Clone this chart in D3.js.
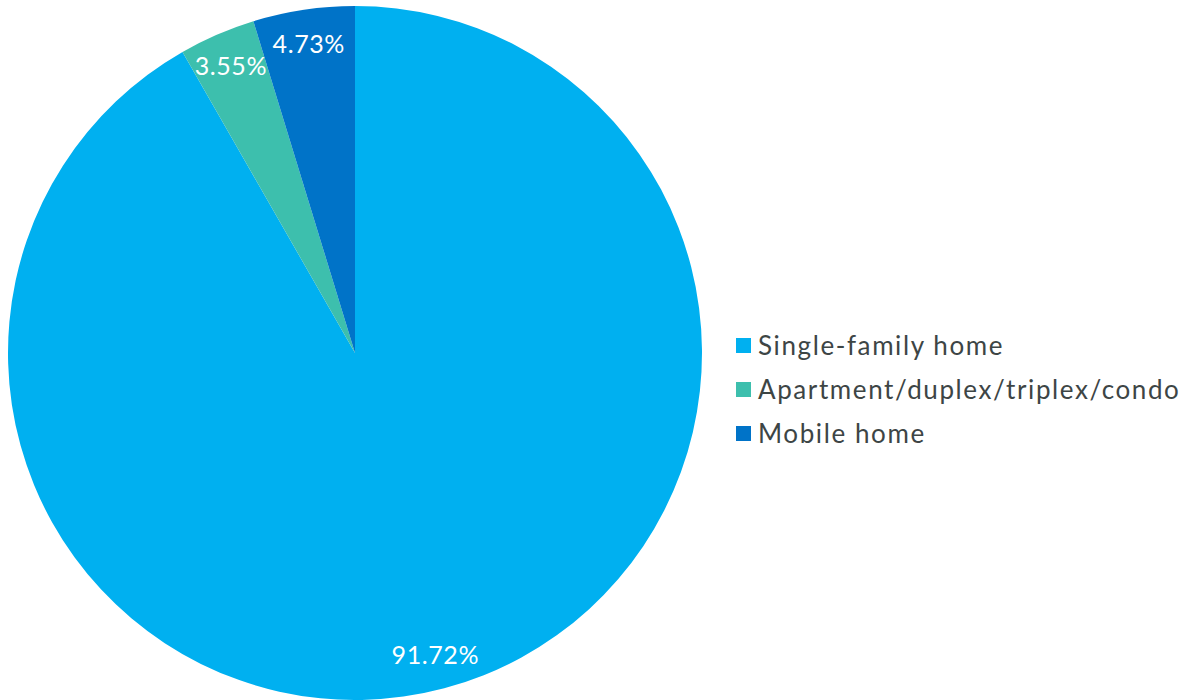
<!DOCTYPE html>
<html>
<head>
<meta charset="utf-8">
<script src="https://cdn.jsdelivr.net/npm/d3@7"></script>
<style>
  body { margin: 0; background: #fff; }
  svg { display: block; font-family: Lato, "Open Sans", sans-serif; }
</style>
</head>
<body>
<div id="chart"></div>
<script>
var width = 1194,
    height = 700;

var categories = ["Single-family home", "Apartment/duplex/triplex/condo", "Mobile home"];
var values = [91.72, 3.55, 4.73];
var colors = ["#00b0f0", "#3dbfad", "#0073c8"];

var cx = 355, cy = 353, radius = 347;

var svg = d3.select("#chart")
    .append("svg")
    .attr("width", width)
    .attr("height", height);

var pie = d3.pie().sort(null).value(function(d) { return d; });
var arc = d3.arc().innerRadius(0).outerRadius(radius);
var labelArc = d3.arc().innerRadius(radius * 0.9).outerRadius(radius * 0.9);

var g = svg.append("g")
    .attr("transform", "translate(" + cx + "," + cy + ")");

var slices = pie(values);

g.selectAll(".slice")
    .data(slices)
    .enter().append("path")
    .attr("class", "slice")
    .attr("d", arc)
    .attr("fill", function(d, i) { return colors[i]; });

g.selectAll(".lbl")
    .data(slices)
    .enter().append("text")
    .attr("class", "lbl")
    .attr("transform", function(d) { return "translate(" + labelArc.centroid(d) + ")"; })
    .attr("text-anchor", "middle")
    .attr("dy", "0.35em")
    .attr("fill", "#fff")
    .style("font-size", "25px")
    .style("letter-spacing", "0.6px")
    .text(function(d) { return d.value.toFixed(2) + "%"; });

var legend = svg.append("g")
    .attr("transform", "translate(736,338)");

var rows = legend.selectAll(".row")
    .data(categories)
    .enter().append("g")
    .attr("class", "row")
    .attr("transform", function(d, i) { return "translate(0," + (i * 44) + ")"; });

rows.append("rect")
    .attr("width", 15)
    .attr("height", 15)
    .attr("fill", function(d, i) { return colors[i]; });

rows.append("text")
    .attr("x", 22)
    .attr("y", 7.5)
    .attr("dy", "0.35em")
    .attr("fill", "#3d4545")
    .style("font-size", "26px")
    .style("letter-spacing", "1.6px")
    .text(function(d) { return d; });
</script>
</body>
</html>
